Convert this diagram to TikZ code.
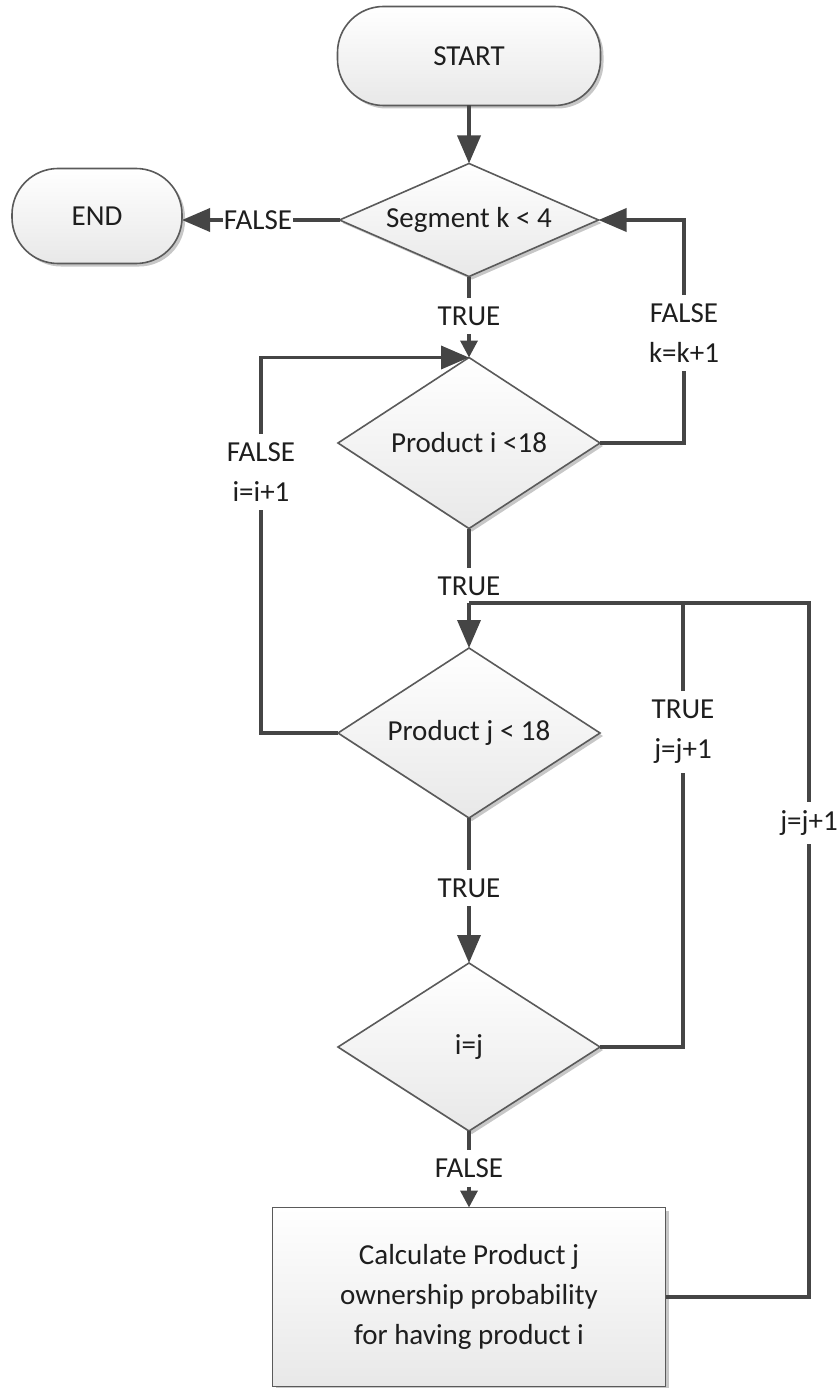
\documentclass[tikz,border=0pt]{standalone}
\usepackage{fontspec}
\setmainfont{Carlito}
\usetikzlibrary{shapes.geometric,arrows.meta,shadows}
\definecolor{lnc}{HTML}{454545}
\definecolor{brd}{HTML}{5A5A5A}
\definecolor{txt}{HTML}{1E1E1E}
\begin{document}
\begin{tikzpicture}[x=1pt,y=-1pt,
  every node/.style={font=\fontsize{29}{40}\selectfont, text=txt},
  shp/.style={draw=brd, line width=1.6pt, top color=white, bottom color=black!9,
    outer sep=0pt, inner sep=0pt,
    drop shadow={shadow xshift=3pt, shadow yshift=-3pt, opacity=0.22, fill=black}},
  term/.style={shp, rectangle, rounded corners=46pt},
  dec/.style={shp, diamond},
  proc/.style={shp, rectangle, align=center},
  lbl/.style={inner xsep=1pt, inner ysep=9pt, outer sep=0pt},
  conn/.style={draw=lnc, line width=3.6pt},
  bigarr/.style={conn, -{Triangle[length=28pt,width=23pt]}},
  smallarr/.style={conn, -{Triangle[length=17pt,width=17pt]}}]
\useasboundingbox (0,0) rectangle (839,1388);

% shapes
\node[term, minimum width=263pt, minimum height=99pt] (start) at (469,56) {START};
\node[term, minimum width=170pt, minimum height=95pt] (end) at (97,216) {END};
\node[dec, shape aspect=2.29, minimum width=259pt, minimum height=113pt] (d1) at (469,220) {Segment k < 4};
\node[dec, shape aspect=1.54, minimum width=262pt, minimum height=171pt] (d2) at (469,443) {Product i <18};
\node[dec, shape aspect=1.54, minimum width=262pt, minimum height=170pt] (d3) at (469,733) {Product j < 18};
\node[dec, shape aspect=1.54, minimum width=262pt, minimum height=168pt] (d4) at (469,1047) {i=j};
\node[proc, minimum width=393pt, minimum height=179pt] (box) at (469,1297)
  {Calculate Product j\\ownership probability\\for having product i};

% labels
\node[lbl] (fEnd) at (258,220) {FALSE};
\node[lbl] (tr1) at (469,316) {TRUE};
\node[lbl, align=center] (fk) at (684,333) {FALSE\\k=k+1};
\node[lbl, align=center] (fi) at (261,472) {FALSE\\i=i+1};
\node[lbl] (tr2) at (469,586) {TRUE};
\node[lbl, align=center] (tj) at (683,732) {TRUE\\j=j+1};
\node[lbl] (jj) at (809,823) {j=j+1};
\node[lbl] (tr3) at (469,888) {TRUE};
\node[lbl] (fa) at (469,1168) {FALSE};

\coordinate (j1) at (469,603);

% connectors
\draw[bigarr] (start) -- (d1);
\draw[conn] (d1.west) -- (fEnd.east);
\draw[bigarr] (fEnd.west) -- (end.east |- fEnd.west);
\draw[conn] (d1.south) -- (tr1.north);
\draw[smallarr] (tr1.south) -- (d2.north);
\draw[conn] (d2.east) -| (fk.south);
\draw[bigarr] (fk.north) |- (d1.east);
\draw[conn] (d3.west) -| (fi.south);
\draw[bigarr] (fi.north) |- (d2.north);
\draw[conn] (d2.south) -- (tr2.north);
\draw[conn] (tr2.south) -- (j1);
\draw[conn] (d4.east) -| (tj.south);
\draw[conn] (tj.north) |- (j1);
\draw[conn] (box.east) -| (jj.south);
\draw[conn] (jj.north) |- (j1);
\draw[bigarr] (j1) -- (d3.north);
\draw[conn] (d3.south) -- (tr3.north);
\draw[bigarr] (tr3.south) -- (d4.north);
\draw[conn] (d4.south) -- (fa.north);
\draw[smallarr] (fa.south) -- (box.north);
\end{tikzpicture}
\end{document}
